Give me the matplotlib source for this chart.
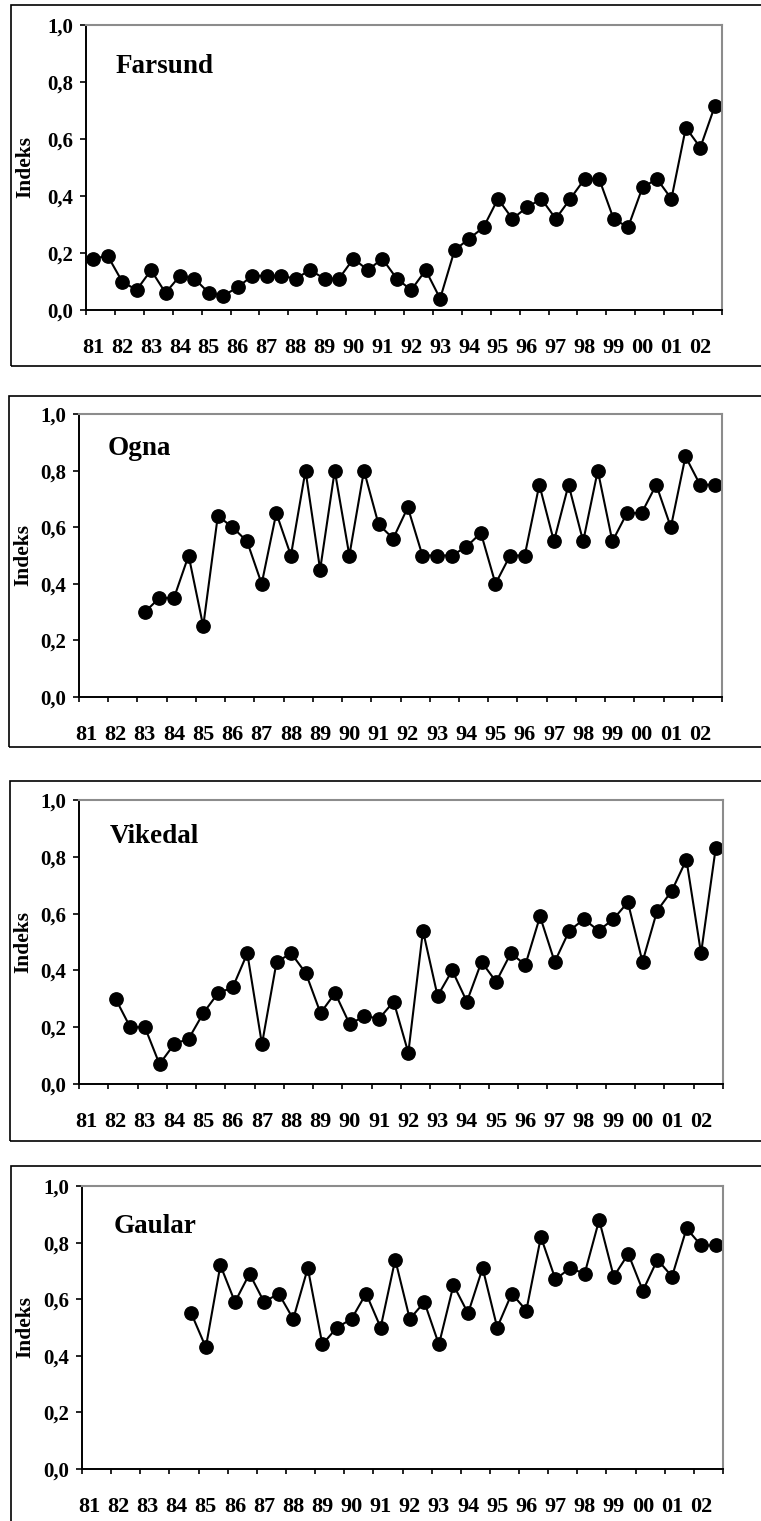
import numpy as np
import matplotlib
matplotlib.use("Agg")
import matplotlib.pyplot as plt
from matplotlib.patches import Rectangle

nan = np.nan

# ---- data (two observations per year, 1981-2002 => 44 slots) ----
year_labels = ["81", "82", "83", "84", "85", "86", "87", "88", "89", "90", "91",
               "92", "93", "94", "95", "96", "97", "98", "99", "00", "01", "02"]

rivers = ["Farsund", "Ogna", "Vikedal", "Gaular"]

farsund = [0.18, 0.19, 0.10, 0.07, 0.14, 0.06, 0.12, 0.11, 0.06, 0.05, 0.08,
           0.12, 0.12, 0.12, 0.11, 0.14, 0.11, 0.11, 0.18, 0.14, 0.18, 0.11,
           0.07, 0.14, 0.04, 0.21, 0.25, 0.29, 0.39, 0.32, 0.36, 0.39, 0.32,
           0.39, 0.46, 0.46, 0.32, 0.29, 0.43, 0.46, 0.39, 0.64, 0.57, 0.715]

ogna = [nan, nan, nan, nan, 0.30, 0.35, 0.35, 0.50, 0.25, 0.64, 0.60,
        0.55, 0.40, 0.65, 0.50, 0.80, 0.45, 0.80, 0.50, 0.80, 0.61, 0.56,
        0.67, 0.50, 0.50, 0.50, 0.53, 0.58, 0.40, 0.50, 0.50, 0.75, 0.55,
        0.75, 0.55, 0.80, 0.55, 0.65, 0.65, 0.75, 0.60, 0.85, 0.75, 0.75]

vikedal = [nan, nan, 0.30, 0.20, 0.20, 0.07, 0.14, 0.16, 0.25, 0.32, 0.34,
           0.46, 0.14, 0.43, 0.46, 0.39, 0.25, 0.32, 0.21, 0.24, 0.23, 0.29,
           0.11, 0.54, 0.31, 0.40, 0.29, 0.43, 0.36, 0.46, 0.42, 0.59, 0.43,
           0.54, 0.58, 0.54, 0.58, 0.64, 0.43, 0.61, 0.68, 0.79, 0.46, 0.83]

gaular = [nan, nan, nan, nan, nan, nan, nan, 0.55, 0.43, 0.72, 0.59,
          0.69, 0.59, 0.62, 0.53, 0.71, 0.44, 0.50, 0.53, 0.62, 0.50, 0.74,
          0.53, 0.59, 0.44, 0.65, 0.55, 0.71, 0.50, 0.62, 0.56, 0.82, 0.67,
          0.71, 0.69, 0.88, 0.68, 0.76, 0.63, 0.74, 0.68, 0.85, 0.79, 0.79]

series = [farsund, ogna, vikedal, gaular]

y_ticks = [0.0, 0.2, 0.4, 0.6, 0.8, 1.0]
y_tick_labels = ["0,0", "0,2", "0,4", "0,6", "0,8", "1,0"]

# ---- layout (pixels) ----
W, H = 761, 1521
axes_px = [(86, 722, 25, 310),
           (79, 722, 414, 697),
           (79, 723, 800, 1084),
           (82, 723, 1186, 1469)]
boxes_px = [(11, 770, 5, 366),
            (9, 770, 396, 747),
            (10, 770, 781, 1141),
            (11, 770, 1166, 1540)]
ylabel_right_px = [35, 33, 33, 35]
title_pos = [(0.046, 0.833), (0.044, 0.855), (0.047, 0.849), (0.050, 0.834)]

plt.rcParams['font.family'] = ['Liberation Serif', 'DejaVu Serif']
plt.rcParams['font.weight'] = 'bold'

fig = plt.figure(figsize=(W / 100, H / 100), dpi=100)

for (bx0, bx1, by0, by1) in boxes_px:
    fig.patches.append(Rectangle((bx0 / W, 1 - by1 / H), (bx1 - bx0) / W,
                                 (by1 - by0) / H, transform=fig.transFigure,
                                 fill=False, ec='black', lw=1.2, zorder=0))

n = len(farsund)
x = np.arange(n)

for i, (name, vals) in enumerate(zip(rivers, series)):
    x0, x1, y0, y1 = axes_px[i]
    ax = fig.add_axes([x0 / W, 1 - y1 / H, (x1 - x0) / W, (y1 - y0) / H])
    v = np.array(vals, dtype=float)
    ax.plot(x, v, color='black', lw=1.5, marker='o', markersize=9.6,
            markerfacecolor='black', markeredgecolor='black', clip_on=False)
    ax.set_xlim(-0.5, n - 0.5)
    ax.set_ylim(0, 1.0)

    ax.set_yticks(y_ticks)
    ax.set_yticklabels(y_tick_labels)
    ax.tick_params(axis='y', direction='out', length=4.5, width=1.2,
                   pad=4.5, labelsize=15)

    ax.set_xticks(np.arange(-0.5, n, 2))
    ax.set_xticklabels([])
    ax.tick_params(axis='x', which='major', direction='out', length=3.5,
                   width=1.2)
    ax.set_xticks(np.arange(0, n, 2), minor=True)
    ax.set_xticklabels(year_labels, minor=True)
    ax.tick_params(axis='x', which='minor', length=0, pad=20, labelsize=16)

    for sp in ['left', 'bottom']:
        ax.spines[sp].set_color('black')
        ax.spines[sp].set_linewidth(1.4)
    for sp in ['top', 'right']:
        ax.spines[sp].set_color('#8c8c8c')
        ax.spines[sp].set_linewidth(1.5)

    ax.set_ylabel("Indeks", fontsize=15.5, fontweight='bold')
    ax.yaxis.set_label_coords(-(x0 - ylabel_right_px[i]) / (x1 - x0), 0.5)

    ax.text(title_pos[i][0], title_pos[i][1], name, transform=ax.transAxes,
            fontsize=19.5, fontweight='bold', ha='left', va='baseline')

fig.savefig("out.png", dpi=100)
